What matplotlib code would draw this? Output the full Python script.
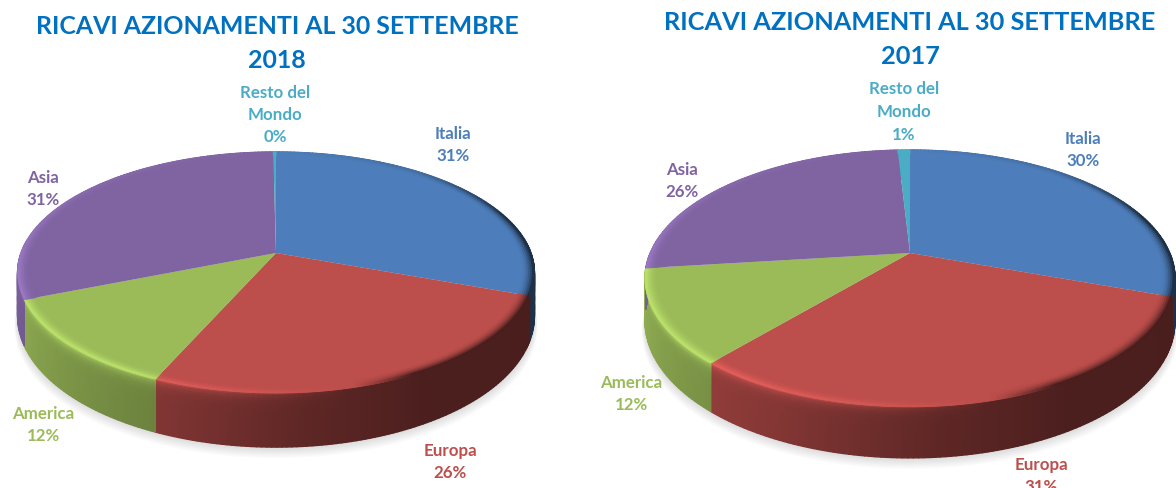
import matplotlib
matplotlib.use("Agg")
import matplotlib.pyplot as plt
from matplotlib.collections import PolyCollection
import numpy as np

plt.rcParams['font.family'] = ['Lato', 'DejaVu Sans']

# data (labels show these rounded)
categories = ['Italia', 'Europa', 'America', 'Asia', 'Resto del\nMondo']
values_2018 = [30.6, 26.0, 12.3, 30.9, 0.2]
values_2017 = [30.4, 30.9, 11.8, 26.0, 0.9]
colors = ['#4D7EBB', '#BC4E4B', '#9BBB59', '#8064A2', '#4BACC6']
title_text = 'RICAVI AZIONAMENTI AL 30 SETTEMBRE'

# pixel positions of the slice labels
label_pos_2018 = [(453, 145), (450, 462), (43, 425), (43, 189), (275, 115)]
label_pos_2017 = [(1083, 150), (1041, 476), (631, 394), (682, 181), (904, 112)]


def project(cx, cy, a, b, k, r, theta):
    # theta clockwise from the top of the disc, in radians
    u = r * np.sin(theta)
    v = r * np.cos(theta)
    w = 1 + k * v
    return cx + a * u / w, cy - b * v / w


def side_shade(deg):
    return np.interp(deg, [0, 90, 150, 175, 205, 250, 290, 360],
                     [0.9, 0.38, 0.40, 0.50, 0.70, 0.90, 1.0, 0.9])


def rim_amount(deg):
    # >0 light edge, <0 dark edge
    return np.interp(deg, [0, 40, 80, 110, 140, 165, 190, 230, 260, 300, 340, 360],
                     [0, -0.1, -0.6, -1, -1, 0, 0.5, 1, 0.8, 0.3, 0.05, 0])


def draw_pie(ax, values, cx, cy, a, b, k, d0, d1):
    vals = np.array(values, dtype=float)
    edges = np.concatenate([[0], np.cumsum(vals)]) / vals.sum() * 2 * np.pi

    def base(theta):
        x, y = project(cx, cy, a, b, k, 1.0, theta)
        return x, y + d0 - d1 * np.cos(theta)

    # soft shadow under the disc
    th = np.linspace(0, 2 * np.pi, 240)
    for off in np.linspace(1, 11, 9):
        x, y = base(th)
        ax.fill(cx + (x - cx) * (1 + off / 900), y + off, color='#808080',
                alpha=0.03, lw=0, zorder=1)

    # side wall, as small cells shaded by angle
    polys = []
    cols = []
    rows = np.concatenate([np.linspace(0, 0.3, 7), np.linspace(0.4, 1, 4)])
    for i, col in enumerate(colors):
        rgb = np.array(matplotlib.colors.to_rgb(col))
        n = max(2, int((edges[i + 1] - edges[i]) * 60))
        ang = np.linspace(edges[i], edges[i + 1], n + 1)
        for j in range(n):
            t0, t1 = ang[j], ang[j + 1]
            deg = np.degrees((t0 + t1) / 2)
            x0, y0 = project(cx, cy, a, b, k, 1.0, t0)
            x1, y1 = project(cx, cy, a, b, k, 1.0, t1)
            bx0, by0 = base(t0)
            bx1, by1 = base(t1)
            h = max(rim_amount(deg), 0)
            for q in range(len(rows) - 1):
                s0, s1 = rows[q], rows[q + 1]
                polys.append([
                    (x0 + (bx0 - x0) * s0, y0 + (by0 - y0) * s0),
                    (x1 + (bx1 - x1) * s0, y1 + (by1 - y1) * s0),
                    (x1 + (bx1 - x1) * s1, y1 + (by1 - y1) * s1),
                    (x0 + (bx0 - x0) * s1, y0 + (by0 - y0) * s1)])
                weight = h * np.exp(-((s0 + s1) / 2) / 0.09)
                c = rgb * side_shade(deg) * (1 - weight) + np.clip(rgb * 1.2, 0, 1) * weight
                cols.append(c)
    ax.add_collection(PolyCollection(polys, facecolors=cols, edgecolors=cols,
                                     linewidths=1.0, zorder=2))

    # top face
    for i, col in enumerate(colors):
        ang = np.linspace(edges[i], edges[i + 1], 120)
        x, y = project(cx, cy, a, b, k, 1.0, ang)
        ax.fill(np.r_[cx, x], np.r_[cy, y], color=col, lw=0, zorder=3)

    # bevel round the edge of the top face
    polys = []
    cols = []
    radii = np.linspace(0.955, 1.0, 7)
    for i, col in enumerate(colors):
        rgb = np.array(matplotlib.colors.to_rgb(col))
        n = max(2, int((edges[i + 1] - edges[i]) * 60))
        ang = np.linspace(edges[i], edges[i + 1], n + 1)
        for j in range(n):
            t0, t1 = ang[j], ang[j + 1]
            deg = np.degrees((t0 + t1) / 2)
            h = rim_amount(deg)
            for q in range(len(radii) - 1):
                r0, r1 = radii[q], radii[q + 1]
                x00, y00 = project(cx, cy, a, b, k, r0, t0)
                x01, y01 = project(cx, cy, a, b, k, r0, t1)
                x11, y11 = project(cx, cy, a, b, k, r1, t1)
                x10, y10 = project(cx, cy, a, b, k, r1, t0)
                polys.append([(x00, y00), (x01, y01), (x11, y11), (x10, y10)])
                f = (q + 1) / (len(radii) - 1)
                if h > 0:
                    target = np.clip(rgb * 1.2, 0, 1)
                    weight = f ** 2 * min(h * 1.3, 1)
                else:
                    target = rgb * 0.38
                    weight = f ** 2 * min(-h * 2.0, 1)
                cols.append(rgb * (1 - weight) + target * weight)
    ax.add_collection(PolyCollection(polys, facecolors=cols, edgecolors=cols,
                                     linewidths=0.6, zorder=4))


fig = plt.figure(figsize=(11.76, 4.88), dpi=100)
ax = fig.add_axes([0, 0, 1, 1])
ax.set_xlim(0, 1176)
ax.set_ylim(488, 0)
ax.axis('off')

draw_pie(ax, values_2018, 276, 253, 255, 117.4, 0.162, 41, 13)
draw_pie(ax, values_2017, 910, 253, 259.8, 123.4, 0.198, 40, 11)

# titles
ax.text(277, 27, title_text, color='#0070C0', fontsize=17.9, fontweight='bold', ha='center', va='center')
ax.text(277, 61, '2018', color='#0070C0', fontsize=17.9, fontweight='bold', ha='center', va='center')
ax.text(910, 22, title_text, color='#0070C0', fontsize=18.3, fontweight='bold', ha='center', va='center')
ax.text(910, 57, '2017', color='#0070C0', fontsize=18.3, fontweight='bold', ha='center', va='center')

# slice labels
for vals, positions in [(values_2018, label_pos_2018), (values_2017, label_pos_2017)]:
    for name, val, pos, col in zip(categories, vals, positions, colors):
        ax.text(pos[0], pos[1], '%s\n%d%%' % (name, round(val)), color=col, fontsize=12.2,
                fontweight='bold', ha='center', va='center', linespacing=1.5)

fig.savefig('out.png', dpi=100, facecolor='white')
